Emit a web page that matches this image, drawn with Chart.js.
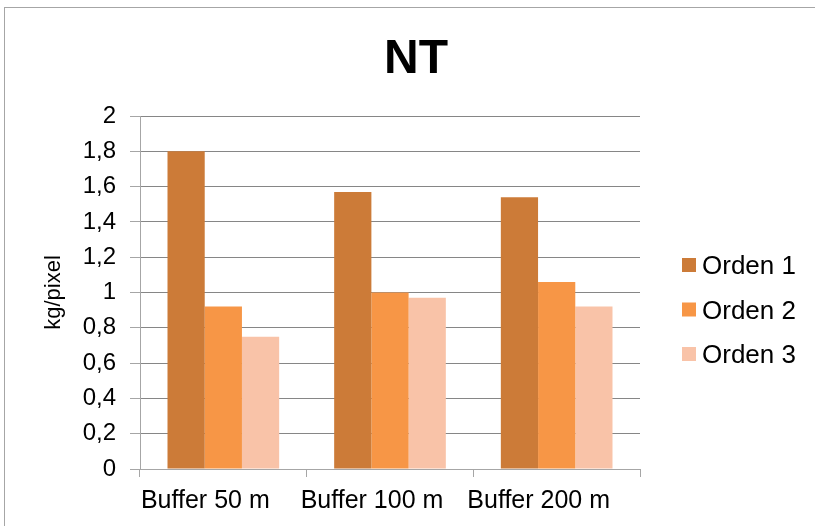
<!DOCTYPE html>
<html>
<head>
<meta charset="utf-8">
<script src="https://cdn.jsdelivr.net/npm/chart.js@4"></script>
<style>
  html, body { margin: 0; padding: 0; background: #fff; overflow: hidden; }
  #wrap { position: relative; width: 815px; height: 526px; }
  #frame { position: absolute; left: 4px; top: 7px; width: 900px; height: 600px; border: 1px solid #a6a6a6; pointer-events: none; }
</style>
</head>
<body>
<div id="wrap">
  <canvas id="chart" width="815" height="526"></canvas>
  <div id="frame"></div>
</div>
<script>
const chartTitle = 'NT';
const yAxisTitle = 'kg/pixel';
const categories = ['Buffer 50 m', 'Buffer 100 m', 'Buffer 200 m'];
const seriesNames = ['Orden 1', 'Orden 2', 'Orden 3'];
const orden1 = [1.80, 1.57, 1.54];
const orden2 = [0.92, 1.00, 1.06];
const orden3 = [0.75, 0.97, 0.92];
const yTickLabels = ['0', '0,2', '0,4', '0,6', '0,8', '1', '1,2', '1,4', '1,6', '1,8', '2'];
const seriesColors = ['#CC7B38', '#F79646', '#F9C3A8'];

const fontFamily = '"Liberation Sans", Arial, sans-serif';

// title + legend drawn by hand so they sit where the original has them
const titleAndLegend = {
    id: 'titleAndLegend',
    afterDraw(chart) {
        const ctx = chart.ctx;
        const area = chart.chartArea;
        ctx.save();
        ctx.fillStyle = '#000';
        ctx.textBaseline = 'alphabetic';
        ctx.textAlign = 'center';
        ctx.font = 'bold 48px ' + fontFamily;
        ctx.fillText(chartTitle, 416, 73);

        ctx.textAlign = 'left';
        ctx.font = '26px ' + fontFamily;
        chart.data.datasets.forEach((ds, i) => {
            const y = 265 + i * 44.5;
            ctx.fillStyle = ds.backgroundColor;
            ctx.fillRect(area.right + 42, y - 7, 14, 14);
            ctx.fillStyle = '#000';
            ctx.fillText(ds.label, area.right + 62, y + 9);
        });
        ctx.restore();
    }
};

const datasets = [orden1, orden2, orden3].map((values, i) => ({
    label: seriesNames[i],
    data: values,
    backgroundColor: seriesColors[i],
    borderWidth: 0,
}));

new Chart(document.getElementById('chart'), {
    type: 'bar',
    data: {
        labels: categories,
        datasets: datasets,
    },
    options: {
        responsive: false,
        animation: false,
        layout: { padding: { left: 30, top: 116, right: 175, bottom: 0 } },
        datasets: { bar: { categoryPercentage: 0.67, barPercentage: 1.0 } },
        plugins: {
            legend: { display: false },
            title: { display: false },
            tooltip: { enabled: false },
        },
        scales: {
            x: {
                grid: { drawOnChartArea: false, drawTicks: true, tickLength: 8, color: '#a6a6a6', offset: true },
                border: { color: '#a6a6a6', width: 1 },
                ticks: { color: '#000', font: { size: 25, family: fontFamily }, padding: 9, maxRotation: 0, labelOffset: -18 },
                afterFit(scale) { scale.height = 57; },
            },
            y: {
                min: 0,
                max: 2,
                ticks: {
                    stepSize: 0.2,
                    color: '#000',
                    font: { size: 24, family: fontFamily },
                    padding: 14,
                    callback: (value, index) => yTickLabels[index],
                },
                grid: { color: '#868686', tickColor: '#a6a6a6', tickLength: 10 },
                border: { color: '#a6a6a6', width: 1 },
                title: {
                    display: true,
                    text: yAxisTitle,
                    color: '#000',
                    font: { size: 22, family: fontFamily },
                    padding: { top: 11, bottom: 0 },
                },
                afterFit(scale) { scale.width = 110; },
            },
        },
    },
    plugins: [titleAndLegend],
});
</script>
</body>
</html>
